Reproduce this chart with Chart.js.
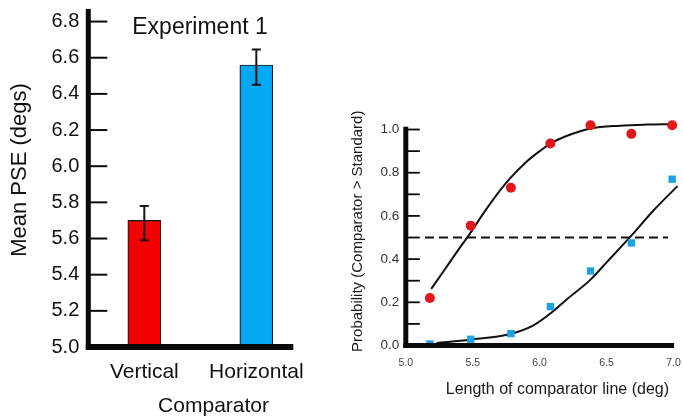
<!DOCTYPE html>
<html><head><meta charset="utf-8">
<script src="https://cdn.jsdelivr.net/npm/chart.js@4"></script>
<style>
html,body{margin:0;padding:0;background:#fff;overflow:hidden;width:683px;height:418px;}
#wrap{position:relative;width:683px;height:418px;overflow:hidden;background:#fff;}
canvas{position:absolute;}
#left{left:0;top:-20px;}
#right{left:340px;top:0;}
</style></head><body>
<div id="wrap">
<canvas id="left" width="400" height="438" style="width:400px;height:438px"></canvas>
<canvas id="right" width="380" height="418" style="width:380px;height:418px"></canvas>
</div>
<script>
// ---------- Left panel data (Experiment 1) ----------
const barCategories = ['Vertical', 'Horizontal'];
const barPositions = [1, 2];
const barMeans = [5.70, 6.56];
const barUpper = [5.78, 6.645];
const barLower = [5.59, 6.45];
const barBase = 5.0;
const barColors = ['#f50000', '#05a8f5'];
const leftTitle = 'Experiment 1';
const leftYTitle = 'Mean PSE (degs)';
const leftXTitle = 'Comparator';
const leftAxisTop = 6.87;   // top end of drawn y axis line
const leftAxisEnd = 2.33;   // right end of drawn x axis line

// ---------- Right panel data (psychometric functions) ----------
const comparatorLengths = [5.18, 5.485, 5.785, 6.08, 6.38, 6.685, 6.99];
const probVertical = [0.22, 0.555, 0.73, 0.935, 1.02, 0.98, 1.02];
const probHorizontal = [0.007, 0.029, 0.055, 0.18, 0.345, 0.475, 0.77];
const fitVerticalX = [5.19, 5.3, 5.4, 5.47, 5.6, 5.7, 5.78, 5.9, 6.0, 6.08, 6.2, 6.38, 6.6, 6.8, 6.98];
const fitVerticalY = [0.262, 0.36, 0.45, 0.51, 0.63, 0.715, 0.775, 0.85, 0.9, 0.935, 0.97, 1.005, 1.018, 1.023, 1.025];
const fitHorizontalX = [5.23, 5.48, 5.78, 5.95, 6.08, 6.2, 6.38, 6.5, 6.68, 6.85, 7.03];
const fitHorizontalY = [0.012, 0.027, 0.053, 0.092, 0.148, 0.212, 0.305, 0.385, 0.505, 0.625, 0.738];
const pseLineX = [5.143, 6.959];
const pseLevel = 0.5;
const rightYTitle = 'Probability (Comparator > Standard)';
const rightXTitle = 'Length of comparator line (deg)';
const rightTicks = [0.1, 0.2, 0.3, 0.4, 0.5, 0.6, 0.7, 0.8, 0.9, 1.0];
const rightAxisTop = 1.013;
const rightAxisEnd = 7.0;

const FONT = "'Liberation Sans', Arial, Helvetica, sans-serif";
Chart.defaults.font.family = FONT;
Chart.defaults.color = '#1a1a1a';

const zip = (xs, ys) => xs.map((x, i) => ({x, y: ys[i]}));
const noPad = s => { s.paddingLeft = 0; s.paddingRight = 0; s.paddingTop = 0; s.paddingBottom = 0; };

// ---------- Left chart ----------
const leftDecor = {
  id: 'leftDecor',
  afterDatasetsDraw(chart) {
    const {ctx, chartArea: a, scales: {x, y}} = chart;
    ctx.save();
    ctx.strokeStyle = '#151515';
    ctx.lineWidth = 2;
    barPositions.forEach((p, i) => {
      const px = x.getPixelForValue(p);
      const t = y.getPixelForValue(barUpper[i]);
      const b = y.getPixelForValue(barLower[i]);
      ctx.beginPath();
      ctx.moveTo(px, t); ctx.lineTo(px, b);
      ctx.moveTo(px - 4.5, t); ctx.lineTo(px + 4.5, t);
      ctx.moveTo(px - 4.5, b); ctx.lineTo(px + 4.5, b);
      ctx.stroke();
    });
    ctx.strokeStyle = '#0a0a0a';
    ctx.lineWidth = 2;
    y.ticks.forEach(t => {
      if (t.value <= y.min + 1e-9) return;
      const py = y.getPixelForValue(t.value);
      ctx.beginPath(); ctx.moveTo(a.left, py); ctx.lineTo(a.left + 19, py); ctx.stroke();
    });
    ctx.fillStyle = '#0a0a0a';
    const top = y.getPixelForValue(leftAxisTop);
    ctx.fillRect(a.left - 2.5, top, 5, a.bottom + 3 - top);
    const xr = x.getPixelForValue(leftAxisEnd);
    ctx.fillRect(a.left - 2.5, a.bottom - 3, xr - a.left + 2.5, 6);
    ctx.restore();
  }
};

new Chart(document.getElementById('left'), {
  type: 'bar',
  data: {
    datasets: [{
      data: zip(barPositions, barMeans),
      base: barBase,
      backgroundColor: barColors,
      borderColor: '#1a1a1a',
      borderWidth: 1.2,
      barThickness: 33,
      clip: {left: 0, top: 0, right: 40, bottom: 0},
      yAxisID: 'y'
    }]
  },
  options: {
    responsive: false,
    animation: false,
    layout: {padding: 0},
    plugins: {
      legend: {display: false},
      tooltip: {enabled: false},
      title: {
        display: true, text: leftTitle, color: '#111',
        font: {size: 23, weight: 'normal', family: FONT},
        padding: {top: 34, bottom: -48.6}
      }
    },
    scales: {
      x: {
        type: 'linear', min: 0.5, max: 2.113, offset: false,
        grid: {display: false, drawTicks: false, offset: false}, border: {display: false},
        afterBuildTicks: s => { s.ticks = barPositions.map(v => ({value: v})); },
        afterFit: s => { s.height = 71; noPad(s); },
        ticks: {
          padding: 13, color: '#111', maxRotation: 0, autoSkip: false,
          font: {size: 21},
          callback: v => barCategories[barPositions.indexOf(v)]
        },
        title: {display: true, text: leftXTitle, color: '#111', font: {size: 21}, align: 'end', padding: {top: 0, bottom: -1}}
      },
      y: {
        type: 'linear', position: 'left', min: 5.0, max: 6.958,
        grid: {display: false, drawTicks: false}, border: {display: false},
        afterFit: s => { s.width = 88.3; noPad(s); },
        ticks: {
          stepSize: 0.2, includeBounds: false, padding: 9, color: '#111',
          font: {size: 20},
          callback: v => Number(v).toFixed(1)
        },
        title: {display: true, text: leftYTitle, color: '#111', font: {size: 22}, padding: {top: 6.8, bottom: 0}}
      },
      yRightSpace: {
        type: 'linear', position: 'right', display: true,
        grid: {display: false, drawTicks: false}, border: {display: false},
        ticks: {display: false},
        afterFit: s => { s.width = 131; noPad(s); }
      }
    }
  },
  plugins: [leftDecor]
});

// ---------- Right chart ----------
const rightDecor = {
  id: 'rightDecor',
  afterDatasetsDraw(chart) {
    const {ctx, chartArea: a, scales: {x, y}} = chart;
    ctx.save();
    ctx.strokeStyle = '#0a0a0a';
    ctx.lineWidth = 1.8;
    rightTicks.forEach(v => {
      const py = y.getPixelForValue(v);
      ctx.beginPath(); ctx.moveTo(a.left, py); ctx.lineTo(a.left + 14, py); ctx.stroke();
    });
    ctx.fillStyle = '#0a0a0a';
    const top = y.getPixelForValue(rightAxisTop);
    ctx.fillRect(a.left - 2.5, top, 5, a.bottom + 2.5 - top);
    const xr = x.getPixelForValue(rightAxisEnd);
    ctx.fillRect(a.left - 2.5, a.bottom - 2.5, xr - a.left + 3, 5);
    ctx.restore();
  }
};

new Chart(document.getElementById('right'), {
  type: 'scatter',
  data: {
    datasets: [
      {
        data: zip(comparatorLengths, probVertical),
        pointStyle: 'circle', pointRadius: 5, pointHoverRadius: 5,
        backgroundColor: '#e3161c', borderColor: '#e3161c', borderWidth: 0,
        showLine: false, clip: false, order: 0
      },
      {
        data: zip(comparatorLengths, probHorizontal),
        pointStyle: 'rect', pointRadius: 5.2, pointHoverRadius: 5.2,
        backgroundColor: '#1ea2e6', borderColor: '#1ea2e6', borderWidth: 0,
        showLine: false, clip: false, order: 1
      },
      {
        data: zip(fitVerticalX, fitVerticalY),
        showLine: true, pointRadius: 0, borderColor: '#111', borderWidth: 2,
        cubicInterpolationMode: 'monotone', fill: false, clip: false, order: 2
      },
      {
        data: zip(fitHorizontalX, fitHorizontalY),
        showLine: true, pointRadius: 0, borderColor: '#111', borderWidth: 2,
        cubicInterpolationMode: 'monotone', fill: false, clip: false, order: 3
      },
      {
        data: pseLineX.map(x => ({x, y: pseLevel})),
        showLine: true, pointRadius: 0, borderColor: '#111', borderWidth: 2,
        borderDash: [9, 5], fill: false, order: 4
      }
    ]
  },
  options: {
    responsive: false,
    animation: false,
    layout: {padding: {left: 0, right: 11, top: 117, bottom: 0}},
    plugins: {legend: {display: false}, tooltip: {enabled: false}},
    scales: {
      x: {
        type: 'linear', min: 5.0, max: 7.265,
        grid: {display: false, drawTicks: false}, border: {display: false},
        afterFit: s => { s.height = 72.5; noPad(s); },
        ticks: {
          stepSize: 0.5, includeBounds: false, padding: 11.7, color: '#444',
          maxRotation: 0, font: {size: 10.5},
          callback: v => Number(v).toFixed(1)
        },
        title: {display: true, text: rightXTitle, color: '#1a1a1a', font: {size: 16}, padding: {top: 0, bottom: 18.9}}
      },
      y: {
        type: 'linear', min: 0, max: 1.058,
        grid: {display: false, drawTicks: false}, border: {display: false},
        afterFit: s => { s.width = 65.8; noPad(s); },
        ticks: {
          stepSize: 0.2, includeBounds: false, padding: 6.5, color: '#333',
          font: {size: 13.5},
          callback: v => Number(v).toFixed(1)
        },
        title: {display: true, text: rightYTitle, color: '#1a1a1a', font: {size: 15}, padding: {top: 9, bottom: 0}}
      }
    }
  },
  plugins: [rightDecor]
});
</script>
</body></html>
